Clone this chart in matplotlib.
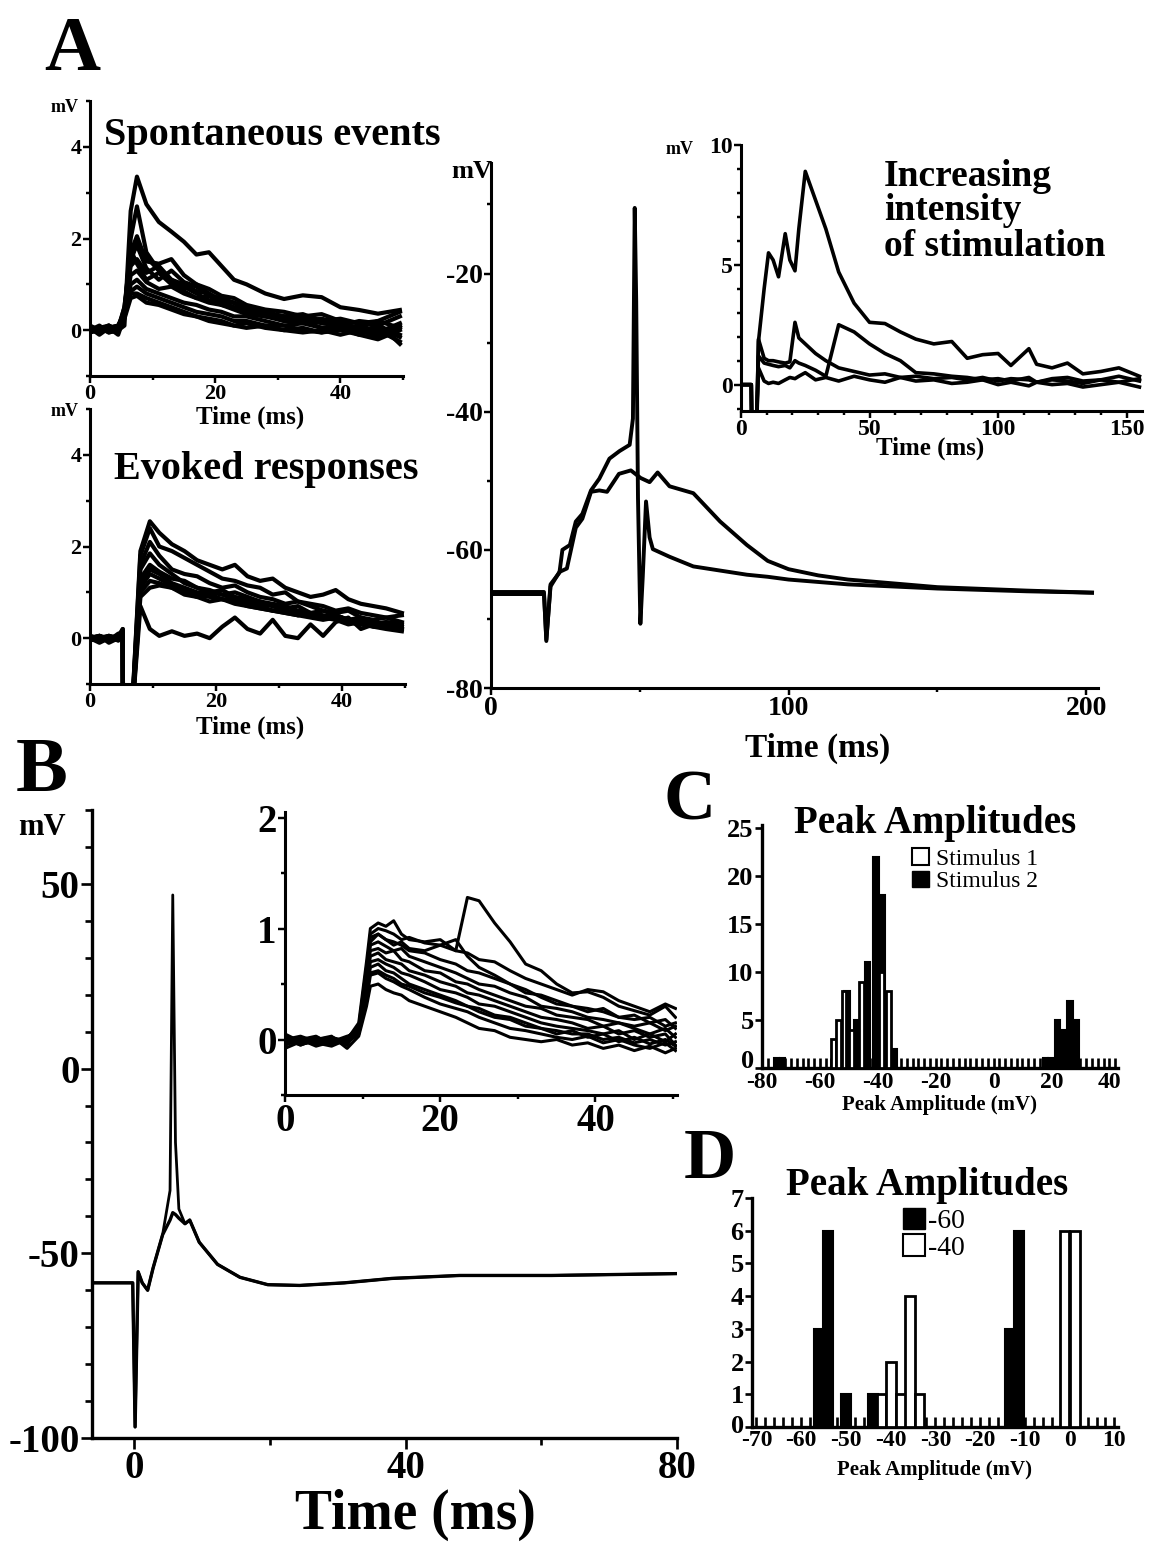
import matplotlib
matplotlib.use("Agg")
import matplotlib.pyplot as plt
from matplotlib.patches import Patch
from matplotlib.ticker import MultipleLocator
from matplotlib.transforms import ScaledTranslation

plt.rcParams['font.family'] = ['Liberation Serif', 'DejaVu Serif']
plt.rcParams['font.weight'] = 'bold'
plt.rcParams['axes.unicode_minus'] = False

# ---------------- data ----------------
# A, spontaneous events (ms, mV)
spont_t = [0, 1.5, 3, 4.5, 5.5, 6.5, 7.5, 9, 11, 13, 15, 17, 19, 21, 23, 25, 28, 31, 34, 37, 40, 43, 46, 49.5]
spont_traces = [
    [0.0, 0.05, 0.1, 0.0, 0.1, 2.6, 3.35, 2.75, 2.36, 2.15, 1.93, 1.65, 1.7, 1.4, 1.1, 1.0, 0.8, 0.68, 0.76, 0.72, 0.5, 0.44, 0.36, 0.44],
    [0.05, 0.0, 0.1, -0.05, 0.3, 2.0, 2.7, 1.7, 1.3, 1.1, 1.0, 0.85, 0.8, 0.65, 0.6, 0.5, 0.4, 0.3, 0.35, 0.2, 0.25, 0.15, 0.1, 0.3],
    [0.0, -0.05, 0.05, 0.1, 0.4, 1.7, 2.05, 1.5, 1.45, 1.55, 1.2, 1.0, 0.9, 0.75, 0.7, 0.55, 0.45, 0.4, 0.3, 0.35, 0.2, 0.15, 0.2, 0.05],
    [-0.05, 0.05, 0.0, 0.05, 0.5, 1.6, 1.85, 1.35, 1.1, 1.3, 1.05, 0.95, 0.75, 0.7, 0.6, 0.5, 0.35, 0.3, 0.25, 0.15, 0.1, 0.05, -0.05, 0.15],
    [0.0, 0.1, -0.05, 0.0, 0.45, 1.4, 1.55, 1.25, 1.4, 1.1, 0.95, 0.8, 0.65, 0.6, 0.5, 0.45, 0.35, 0.2, 0.15, 0.2, 0.1, 0.05, 0.0, -0.25],
    [0.05, -0.1, 0.05, 0.1, 0.35, 1.2, 1.3, 1.05, 0.9, 0.95, 0.8, 0.7, 0.6, 0.55, 0.45, 0.35, 0.3, 0.2, 0.2, 0.05, 0.0, 0.1, -0.1, 0.1],
    [0.0, 0.05, -0.05, 0.0, 0.3, 1.0, 1.1, 0.9, 0.8, 0.7, 0.6, 0.55, 0.45, 0.4, 0.3, 0.3, 0.2, 0.1, 0.15, 0.05, 0.1, -0.05, 0.1, -0.1],
    [0.05, 0.0, 0.05, -0.1, 0.3, 0.85, 0.95, 0.8, 0.7, 0.6, 0.5, 0.4, 0.35, 0.3, 0.2, 0.2, 0.1, 0.1, 0.0, -0.05, 0.05, -0.1, -0.2, 0.0],
    [-0.05, 0.0, 0.05, 0.0, 0.3, 0.8, 0.8, 0.7, 0.6, 0.5, 0.4, 0.3, 0.25, 0.2, 0.1, 0.15, 0.05, 0.0, 0.05, -0.05, 0.0, -0.1, 0.05, -0.15],
    [0.0, 0.05, 0.0, 0.05, 0.25, 0.7, 0.75, 0.6, 0.55, 0.45, 0.35, 0.3, 0.2, 0.15, 0.1, 0.05, 0.1, 0.0, -0.05, 0.0, -0.1, 0.0, -0.15, 0.05],
    [0.1, 0.0, 0.0, 0.05, 0.4, 1.5, 1.9, 1.6, 1.3, 1.05, 0.9, 1.0, 0.8, 0.6, 0.6, 0.4, 0.3, 0.25, 0.3, 0.2, 0.1, 0.2, 0.15, -0.3],
    [0.0, 0.0, 0.1, 0.0, 0.5, 1.75, 1.45, 1.1, 1.25, 1.0, 0.85, 0.7, 0.75, 0.55, 0.5, 0.45, 0.35, 0.3, 0.2, 0.25, 0.15, 0.05, 0.2, 0.4],
]

# A, evoked responses
evoked_t = [0, 1.5, 3, 4.5, 5.2, 5.25, 6.5, 8, 9.5, 11, 13, 15, 17, 19, 21, 23, 25, 27, 29, 31, 33, 35, 37, 39, 41, 43, 45, 47, 49.5]
evoked_traces = [
    [0.0, 0.05, -0.05, 0.1, 0.1, -2, -2, 1.9, 2.55, 2.3, 2.05, 1.9, 1.7, 1.6, 1.5, 1.6, 1.35, 1.25, 1.3, 1.1, 1.0, 0.9, 0.95, 1.05, 0.85, 0.75, 0.7, 0.65, 0.55],
    [0.0, -0.05, 0.05, 0.0, 0.15, -2, -2, 1.8, 2.4, 2.0, 1.9, 1.75, 1.6, 1.45, 1.3, 1.25, 1.15, 1.1, 0.95, 1.0, 0.8, 0.75, 0.7, 0.6, 0.65, 0.55, 0.5, 0.45, 0.5],
    [-0.05, 0.05, 0.0, 0.05, 0.1, -2, -2, 1.6, 2.1, 1.8, 1.5, 1.4, 1.35, 1.2, 1.1, 1.15, 1.0, 0.9, 0.85, 0.75, 0.8, 0.7, 0.6, 0.55, 0.6, 0.45, 0.4, 0.45, 0.35],
    [0.0, 0.0, 0.05, -0.05, 0.2, -2, -2, 1.5, 1.85, 1.6, 1.4, 1.2, 1.1, 1.05, 0.95, 1.0, 0.9, 0.8, 0.75, 0.7, 0.6, 0.55, 0.6, 0.5, 0.4, 0.45, 0.35, 0.3, 0.25],
    [0.05, -0.05, 0.0, 0.05, 0.1, -2, -2, 1.3, 1.6, 1.45, 1.3, 1.25, 1.1, 1.0, 1.05, 0.9, 0.85, 0.8, 0.7, 0.65, 0.7, 0.55, 0.5, 0.45, 0.35, 0.4, 0.3, 0.25, 0.2],
    [0.0, 0.05, -0.1, 0.0, 0.15, -2, -2, 1.2, 1.5, 1.4, 1.2, 1.1, 1.0, 1.0, 0.95, 0.85, 0.8, 0.75, 0.7, 0.6, 0.55, 0.5, 0.45, 0.5, 0.4, 0.35, 0.3, 0.35, 0.3],
    [-0.05, 0.0, 0.05, 0.0, 0.1, -2, -2, 1.1, 1.4, 1.3, 1.15, 1.05, 0.95, 0.9, 0.85, 0.8, 0.7, 0.65, 0.6, 0.55, 0.5, 0.55, 0.45, 0.4, 0.3, 0.35, 0.25, 0.2, 0.15],
    [0.0, -0.1, 0.0, 0.05, 0.2, -2, -2, 1.0, 1.25, 1.2, 1.1, 1.0, 0.9, 0.95, 0.85, 0.75, 0.7, 0.65, 0.6, 0.55, 0.5, 0.45, 0.4, 0.45, 0.35, 0.3, 0.25, 0.3, 0.2],
    [0.05, 0.0, 0.0, -0.05, 0.1, -2, -2, 0.9, 1.1, 1.15, 1.1, 0.95, 0.9, 0.8, 0.85, 0.8, 0.75, 0.7, 0.6, 0.6, 0.5, 0.55, 0.45, 0.5, 0.4, 0.3, 0.35, 0.3, 0.25],
    [0.0, 0.05, -0.05, 0.0, 0.15, -2, -2, 0.7, 0.2, 0.05, 0.15, 0.05, 0.1, 0.0, 0.25, 0.45, 0.2, 0.1, 0.4, 0.05, 0.0, 0.3, 0.05, 0.35, 0.45, 0.2, 0.3, 0.35, 0.3],
]

# A, large panel: spike and subthreshold response
spike_t = [0, 17.8, 18.6, 20, 23, 24, 26.5, 28.5, 30.7, 33.6, 36.4, 39.8, 43.2, 46.6, 47.7, 48.3, 48.8, 49.4, 50.2, 51,
           52.1, 53.3, 54.4, 60, 68, 77, 86, 93, 100, 120, 150, 180, 202]
spike_v = [-66.1, -66.1, -73.2, -65, -63.3, -60, -59.3, -55.9, -54.8, -51.4, -49.7, -46.8, -45.7, -44.8, -41, -10.5, -24,
           -52.5, -70.7, -63.9, -53, -58.2, -59.9, -61, -62.4, -63, -63.6, -63.9, -64.3, -65, -65.6, -66, -66.2]
sub_t = [0, 17.8, 18.6, 20, 23, 25.5, 28.5, 30.7, 33.6, 36.4, 39, 43, 47, 50.3, 53.3, 56, 60, 68, 77, 86, 93, 100,
         110, 120, 150, 180, 202]
sub_v = [-66.4, -66.4, -73, -65.3, -63.2, -62.7, -56.8, -55.5, -51.6, -51.4, -51.6, -49.0, -48.5, -49.6, -50.2, -48.8,
         -50.8, -51.8, -55.9, -59.3, -61.6, -62.8, -63.7, -64.3, -65.4, -65.9, -66.2]

# A, increasing intensity of stimulation
stim_t = [0, 4, 4.2, 6, 6.8, 9, 10.7, 12.5, 14.6, 17.2, 19, 21, 22.5, 25, 29, 33, 38, 44, 50, 56, 62, 68, 75, 82, 88,
          94, 100, 105, 112, 115, 121, 127, 133, 140, 147, 155]
stim_traces = [
    [0, 0, -2, -2, 1.8, 4.0, 5.5, 5.2, 4.5, 6.3, 5.2, 4.75, 6.5, 8.9, 7.7, 6.5, 4.7, 3.4, 2.6, 2.55, 2.2, 1.9, 1.7, 1.8,
     1.1, 1.25, 1.3, 0.8, 1.5, 0.85, 0.7, 0.9, 0.45, 0.55, 0.7, 0.35],
    [0, 0, -2, -2, 1.9, 1.1, 1.0, 1.0, 0.95, 0.9, 0.95, 2.6, 1.95, 1.7, 1.3, 1.0, 0.7, 0.55, 0.4, 0.45, 0.3, 0.35, 0.25,
     0.3, 0.2, 0.3, 0.15, 0.25, 0.2, 0.1, 0.25, 0.3, 0.15, 0.2, 0.35, 0.15],
    [0, 0, -2, -2, 1.2, 0.9, 0.85, 0.8, 0.75, 0.8, 0.7, 1.0, 0.9, 0.8, 0.6, 0.35, 2.5, 2.2, 1.7, 1.3, 1.0, 0.5, 0.45,
     0.35, 0.3, 0.2, 0.25, 0.15, 0.3, 0.1, 0.2, 0.15, 0.05, 0.2, 0.1, 0.25],
    [0, 0, -2, -2, 0.7, 0.15, 0.05, 0.1, 0.05, 0.2, 0.3, 0.25, 0.35, 0.5, 0.2, 0.3, 0.15, 0.35, 0.2, 0.1, 0.3, 0.15, 0.2,
     0.05, 0.1, 0.2, 0.0, 0.1, -0.05, 0.1, 0.0, 0.05, -0.1, 0.0, 0.1, -0.1],
]

# B, whole-cell response with and without spike
b_t = [-6.2, -0.2, 0.15, 0.6, 1.2, 2.0, 2.8, 4.2, 5.3, 5.7, 6.1, 6.6, 7.5, 8.2, 9.6, 12.3, 15.6, 19.7, 24.4, 31, 38, 48, 61.5, 80]
b_spike_v = [-58, -58, -97, -55, -58, -60, -54, -45, -33, 47, -20, -38, -42, -41, -47, -53, -56.5, -58.5, -58.7, -58,
             -56.8, -56, -56, -55.5]
b_sub_v = [-58, -58, -97, -55, -58, -60, -54, -45, -41, -39, -39.5, -40.5, -42, -41, -47, -53, -56.5, -58.5, -58.7,
           -58, -56.8, -56, -56, -55.5]

# B inset
binset_t = [0, 2, 4, 6, 8, 9.5, 10.5, 11, 12, 13, 14, 15, 16, 18, 20, 22, 23.5, 25, 27, 29, 31, 33, 35, 37, 39, 41,
            43, 45, 47, 49, 50.3]
binset_traces = [
    [-0.05, 0.0, -0.05, 0.02, -0.02, 0.1, 0.6, 0.95, 1.0, 0.98, 0.95, 0.9, 0.92, 0.87, 0.85, 0.8, 1.28, 1.25, 1.05, 0.88, 0.68, 0.62, 0.5, 0.42, 0.43, 0.38, 0.3, 0.26, 0.22, 0.3, 0.2],
    [0.0, -0.03, 0.02, -0.02, 0.0, 0.15, 0.7, 1.0, 1.05, 1.02, 1.07, 0.95, 0.9, 0.88, 0.9, 0.8, 0.78, 0.72, 0.7, 0.62, 0.55, 0.5, 0.45, 0.4, 0.45, 0.43, 0.35, 0.3, 0.25, 0.32, 0.28],
    [-0.03, 0.02, -0.05, 0.0, -0.04, 0.12, 0.65, 0.92, 0.95, 0.9, 0.88, 0.85, 0.8, 0.78, 0.72, 0.68, 0.62, 0.6, 0.55, 0.5, 0.42, 0.4, 0.35, 0.3, 0.28, 0.25, 0.2, 0.22, 0.15, 0.18, 0.1],
    [0.02, -0.05, 0.0, -0.03, 0.02, 0.1, 0.6, 0.85, 0.88, 0.84, 0.8, 0.82, 0.75, 0.7, 0.65, 0.6, 0.55, 0.5, 0.48, 0.42, 0.38, 0.3, 0.28, 0.25, 0.2, 0.18, 0.15, 0.12, 0.15, 0.08, 0.12],
    [-0.05, 0.0, 0.03, -0.05, 0.0, 0.08, 0.55, 0.8, 0.82, 0.78, 0.8, 0.72, 0.7, 0.62, 0.6, 0.52, 0.5, 0.45, 0.4, 0.35, 0.3, 0.28, 0.22, 0.2, 0.18, 0.12, 0.15, 0.1, 0.05, 0.1, 0.02],
    [0.0, 0.03, -0.02, 0.0, -0.05, 0.1, 0.5, 0.75, 0.78, 0.72, 0.7, 0.68, 0.62, 0.58, 0.52, 0.48, 0.42, 0.4, 0.35, 0.3, 0.25, 0.2, 0.18, 0.15, 0.1, 0.12, 0.05, 0.08, 0.02, 0.05, -0.05],
    [-0.08, -0.02, 0.0, 0.02, -0.03, 0.05, 0.45, 0.7, 0.72, 0.68, 0.65, 0.6, 0.58, 0.52, 0.45, 0.42, 0.38, 0.32, 0.3, 0.25, 0.2, 0.15, 0.12, 0.1, 0.08, 0.05, 0.08, 0.0, 0.05, -0.02, 0.05],
    [0.03, -0.04, -0.02, 0.0, 0.0, 0.06, 0.4, 0.65, 0.68, 0.62, 0.6, 0.55, 0.5, 0.45, 0.4, 0.35, 0.3, 0.28, 0.22, 0.2, 0.15, 0.1, 0.08, 0.05, 0.05, 0.0, 0.02, -0.03, 0.0, -0.05, -0.02],
    [-0.02, 0.0, -0.06, -0.02, 0.03, 0.05, 0.35, 0.58, 0.6, 0.55, 0.52, 0.48, 0.45, 0.38, 0.32, 0.28, 0.25, 0.2, 0.15, 0.1, 0.08, 0.05, 0.02, 0.0, 0.03, -0.03, 0.0, -0.05, -0.08, -0.03, -0.1],
    [0.0, -0.05, 0.0, 0.03, -0.08, 0.03, 0.3, 0.48, 0.5, 0.45, 0.42, 0.4, 0.35, 0.3, 0.25, 0.2, 0.15, 0.1, 0.08, 0.02, 0.0, -0.02, 0.0, -0.05, -0.03, -0.08, -0.05, -0.1, -0.06, -0.12, -0.08],
    [-0.04, 0.02, -0.03, -0.06, 0.0, 0.08, 0.55, 0.88, 0.95, 0.9, 0.85, 0.88, 0.82, 0.8, 0.85, 0.9, 0.75, 0.65, 0.58, 0.5, 0.45, 0.38, 0.32, 0.3, 0.25, 0.28, 0.2, 0.18, 0.2, 0.12, 0.15],
    [0.05, -0.02, 0.0, -0.04, 0.02, 0.1, 0.42, 0.6, 0.62, 0.58, 0.55, 0.5, 0.48, 0.42, 0.38, 0.33, 0.3, 0.25, 0.2, 0.18, 0.12, 0.1, 0.05, 0.08, 0.02, 0.05, -0.02, 0.02, -0.04, 0.0, -0.06],
]

# C, peak amplitude histogram
c_stim1_mv = [-55.3, -53.5, -51.7, -49.0, -45.6, -38.8, -36.4]
c_stim1_n = [3, 5, 8, 4, 9, 10, 8]
c_stim2_mv = [-75.0, -73.0, -50.6, -47.2, -43.5, -40.6, -38.4, -34.2, 18.0, 19.8, 22.0, 24.2, 26.4, 28.6]
c_stim2_n = [1, 1, 8, 5, 11, 22, 18, 2, 1, 1, 5, 4, 7, 5]

# D, peak amplitude histogram at two holding potentials
d_m60_mv = [-56.2, -54.0, -50.0, -44.0, -13.4, -11.3]
d_m60_n = [3, 6, 1, 1, 3, 6]
d_m40_mv = [-42.0, -39.9, -37.7, -35.7, -33.6, -1.15, 1.15]
d_m40_n = [1, 2, 1, 4, 1, 6, 6]

# ---------------- figure ----------------
W, H = 1158, 1548
fig = plt.figure(figsize=(W / 100, H / 100), dpi=100)


def px_axes(l, t, r, b):
    return fig.add_axes([l / W, 1 - b / H, (r - l) / W, (b - t) / H])


def ftext(x, y, s, size, ha='center', va='center', **kw):
    fig.text(x / W, 1 - y / H, s, fontsize=size, ha=ha, va=va, fontweight='bold', **kw)


def style(ax, size, lw=2.2, major=5, minor=3):
    for s in ['top', 'right']:
        ax.spines[s].set_visible(False)
    for s in ['left', 'bottom']:
        ax.spines[s].set_linewidth(lw)
    ax.tick_params(which='both', width=lw * 0.8, labelsize=size, direction='out', pad=1)
    ax.tick_params(which='major', length=major)
    ax.tick_params(which='minor', length=minor)


def lift_zero_label(ax, px):
    # nudge the y tick label "0" up so it clears the first x tick label
    lbl = ax.get_yticklabels()[0]
    lbl.set_transform(lbl.get_transform() + ScaledTranslation(0, px / 100, fig.dpi_scale_trans))


# spontaneous events
ax = px_axes(90, 101, 403, 376)
for v in spont_traces:
    ax.plot(spont_t, v, color='black', lw=3.0)
ax.set_xlim(0, 50)
ax.set_ylim(-1, 5)
ax.set_xticks([0, 20, 40])
ax.set_yticks([0, 2, 4])
ax.xaxis.set_minor_locator(MultipleLocator(10))
ax.yaxis.set_minor_locator(MultipleLocator(1))
style(ax, 16)

# evoked responses
ax = px_axes(90, 409, 405, 684)
for v in evoked_traces:
    ax.plot(evoked_t, v, color='black', lw=3.0)
ax.set_xlim(0, 50)
ax.set_ylim(-1, 5)
ax.set_xticks([0, 20, 40])
ax.set_yticks([0, 2, 4])
ax.xaxis.set_minor_locator(MultipleLocator(10))
ax.yaxis.set_minor_locator(MultipleLocator(1))
style(ax, 16)

# large panel A
ax = px_axes(491, 163, 1098, 688)
ax.plot(sub_t, sub_v, color='black', lw=2.8)
ax.plot(spike_t, spike_v, color='black', lw=2.8)
ax.set_xlim(0, 204)
ax.set_ylim(-80, -4)
ax.set_xticks([0, 100, 200])
ax.set_yticks([-80, -60, -40, -20])
ax.xaxis.set_minor_locator(MultipleLocator(50))
ax.yaxis.set_minor_locator(MultipleLocator(10))
style(ax, 20)

# increasing intensity inset
ax = px_axes(741, 145, 1142, 411)
for v in stim_traces:
    ax.plot(stim_t, v, color='black', lw=2.6)
ax.set_xlim(0, 156)
ax.set_ylim(-1.1, 10)
ax.set_xticks([0, 50, 100, 150])
ax.set_yticks([0, 5, 10])
ax.xaxis.set_minor_locator(MultipleLocator(10))
ax.yaxis.set_minor_locator(MultipleLocator(1))
style(ax, 17)

# B big
ax = px_axes(92, 810, 677, 1438)
ax.plot(b_t, b_sub_v, color='black', lw=2.4)
ax.plot(b_t, b_spike_v, color='black', lw=2.0)
ax.set_xlim(-6.2, 80)
ax.set_ylim(-100, 70)
ax.set_xticks([0, 40, 80])
ax.set_yticks([-100, -50, 0, 50])
ax.xaxis.set_minor_locator(MultipleLocator(20))
ax.yaxis.set_minor_locator(MultipleLocator(10))
style(ax, 28, lw=2.4, major=8, minor=5)

# B inset
ax = px_axes(285, 812, 677, 1095)
for v in binset_traces:
    ax.plot(binset_t, v, color='black', lw=2.2)
ax.set_xlim(0, 50.5)
ax.set_ylim(-0.5, 2.05)
ax.set_xticks([0, 20, 40])
ax.set_yticks([0, 1, 2])
ax.xaxis.set_minor_locator(MultipleLocator(10))
ax.yaxis.set_minor_locator(MultipleLocator(0.5))
style(ax, 28, lw=2.2)

# C histogram
ax = px_axes(762, 825, 1118, 1068)
ax.bar(c_stim2_mv, c_stim2_n, width=1.8, color='black', edgecolor='black', lw=1.5, zorder=2)
ax.bar(c_stim1_mv, c_stim1_n, width=1.6, color='white', edgecolor='black', lw=2.0, zorder=3)
ax.set_xlim(-80, 43)
ax.set_ylim(0, 25.3)
ax.set_xticks(range(-80, 41, 20))
ax.set_yticks(range(0, 26, 5))
ax.xaxis.set_minor_locator(MultipleLocator(2))
style(ax, 19, lw=2.4)
ax.tick_params(axis='x', which='both', direction='in', length=7, labelsize=17, pad=3)
lift_zero_label(ax, 9)
leg_handles = [Patch(facecolor='white', edgecolor='black', lw=1.5), Patch(facecolor='black', edgecolor='black')]
fig.legend(leg_handles, ['Stimulus 1', 'Stimulus 2'], loc='upper left', bbox_to_anchor=(912 / W, 1 - 848 / H),
           frameon=False, prop={'size': 17, 'weight': 'normal'}, handlelength=0.7, handleheight=0.7,
           handletextpad=0.3, labelspacing=0.05, borderpad=0, borderaxespad=0)

# D histogram
ax = px_axes(752, 1198, 1118, 1427)
ax.bar(d_m60_mv, d_m60_n, width=2.1, color='black', edgecolor='black', lw=1.5, zorder=2)
ax.bar(d_m40_mv, d_m40_n, width=2.1, color='white', edgecolor='black', lw=2.0, zorder=3)
ax.set_xlim(-71, 10.8)
ax.set_ylim(0, 7)
ax.set_xticks(range(-70, 11, 10))
ax.set_yticks(range(0, 8))
ax.xaxis.set_minor_locator(MultipleLocator(2))
style(ax, 19, lw=2.4)
ax.tick_params(axis='x', which='both', direction='in', length=7, labelsize=17, pad=2)
lift_zero_label(ax, 3)
leg_handles = [Patch(facecolor='black', edgecolor='black'), Patch(facecolor='white', edgecolor='black', lw=1.5)]
fig.legend(leg_handles, ['-60', '-40'], loc='upper left', bbox_to_anchor=(903 / W, 1 - 1208 / H),
           frameon=False, prop={'size': 20, 'weight': 'normal'}, handlelength=0.8, handleheight=0.8,
           handletextpad=0.1, labelspacing=0.0, borderpad=0, borderaxespad=0)

# ---------------- text ----------------
ftext(72, 52, 'A', 56)
ftext(42, 772, 'B', 56)
ftext(690, 802, 'C', 52)
ftext(710, 1160, 'D', 52)

ftext(65, 108, 'mV', 13)
ftext(104, 135, 'Spontaneous events', 29, ha='left')
ftext(250, 417, 'Time (ms)', 18)
ftext(65, 411, 'mV', 13)
ftext(114, 470, 'Evoked responses', 29, ha='left')
ftext(250, 727, 'Time (ms)', 18)

ftext(472, 172, 'mV', 19)
ftext(818, 748, 'Time (ms)', 24)
ftext(680, 150, 'mV', 13)
ftext(884, 211, 'Increasing\nintensity\nof stimulation', 27, ha='left', linespacing=1.0)
ftext(930, 448, 'Time (ms)', 18)

ftext(42, 828, 'mV', 22)
ftext(415, 1515, 'Time (ms)', 40)

ftext(935, 824, 'Peak Amplitudes', 28)
ftext(940, 1105, 'Peak Amplitude (mV)', 15)
ftext(927, 1185, 'Peak Amplitudes', 28)
ftext(935, 1470, 'Peak Amplitude (mV)', 15)

fig.savefig('out.png', dpi=100)
